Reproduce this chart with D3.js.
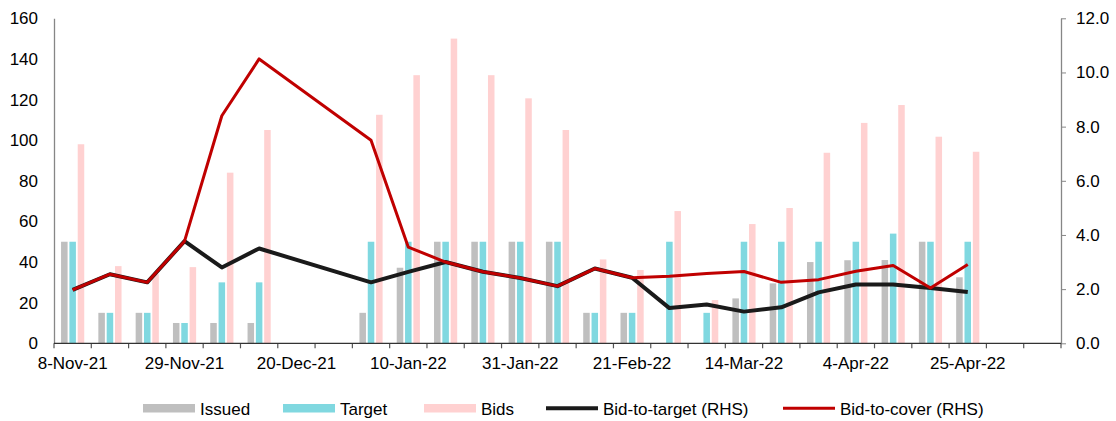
<!DOCTYPE html>
<html><head><meta charset="utf-8">
<script src="https://cdn.jsdelivr.net/npm/d3@7"></script>
<style>body{margin:0;background:#fff}svg{display:block;font-family:"Liberation Sans",Arial,sans-serif}</style>
</head><body><svg id="c" width="1116" height="421"></svg>
<script>
const weeks = ["8-Nov-21","15-Nov-21","22-Nov-21","29-Nov-21","6-Dec-21","13-Dec-21","20-Dec-21","27-Dec-21","3-Jan-22","10-Jan-22","17-Jan-22","24-Jan-22","31-Jan-22","7-Feb-22","14-Feb-22","21-Feb-22","28-Feb-22","7-Mar-22","14-Mar-22","21-Mar-22","28-Mar-22","4-Apr-22","11-Apr-22","18-Apr-22","25-Apr-22","2-May-22","9-May-22"];
const issued = [50,15,15,10,10,10,null,null,15,37.2,50,50,50,50,15,15,null,null,22.1,29.5,40,40.9,41,50,32.5,null,null];
const target = [50,15,15,10,30,30,null,null,50,50,50,50,50,50,15,15,50,15,50,50,50,50,54,50,50,null,null];
const bids = [98,38,34,37.5,84,105,null,null,112.5,132,150,132,120.6,105,41.3,36.1,65.1,21.3,58.7,66.6,93.8,108.5,117.3,101.7,94.3,null,null];
const bidToTarget = [1.97,2.55,2.25,3.77,2.8,3.5,null,null,2.25,2.64,3.0,2.64,2.41,2.11,2.76,2.42,1.3,1.43,1.17,1.33,1.88,2.17,2.17,2.04,1.89,null,null];
const bidToCover = [1.97,2.55,2.25,3.77,8.4,10.5,null,null,7.5,3.55,3.0,2.64,2.41,2.11,2.76,2.42,2.48,2.58,2.65,2.25,2.35,2.66,2.87,2.04,2.91,null,null];
const leftTicks = [0,20,40,60,80,100,120,140,160];
const rightTicks = [0,2,4,6,8,10,12];
const xLabels = ["8-Nov-21","29-Nov-21","20-Dec-21","10-Jan-22","31-Jan-22","21-Feb-22","14-Mar-22","4-Apr-22","25-Apr-22"];

const svg = d3.select("#c");
const L = 54, R = 1061, T = 18.3, B = 343.3;
const x = d3.scaleBand().domain(weeks).range([L, R]).paddingInner(0).paddingOuter(0);
const yL = d3.scaleLinear().domain([0,160]).range([B, T]);
const yR = d3.scaleLinear().domain([0,12]).range([B, T]);
const series = [{k:"Issued",v:issued,c:"#bfbfbf"},{k:"Target",v:target,c:"#80d8e0"},{k:"Bids",v:bids,c:"#ffd1d1"}];
const inner = d3.scaleBand().domain([0,1,2]).range([0, x.bandwidth()]).paddingInner(0).paddingOuter(0.74);

const gBars = svg.append("g");
series.forEach((s,i)=>{
  gBars.selectAll(null).data(weeks.map((w,j)=>({w, v:s.v[j]})).filter(d=>d.v!=null))
    .enter().append("rect")
    .attr("x", d=>x(d.w)+inner(i)+0.9)
    .attr("width", inner.bandwidth()-1.8)
    .attr("y", d=>yL(d.v))
    .attr("height", d=>B-yL(d.v))
    .attr("fill", s.c);
});

// axes
const fs = "17px";
const gl = svg.append("g").attr("transform",`translate(${L},0)`)
  .call(d3.axisLeft(yL).tickValues(leftTicks).tickSize(0).tickPadding(16));
gl.select(".domain").attr("stroke","#868686").attr("stroke-width",1.3);
gl.selectAll("text").attr("font-size",fs).attr("fill","#000").attr("font-family","Liberation Sans, Arial");

const gr = svg.append("g").attr("transform",`translate(${R},0)`)
  .call(d3.axisRight(yR).tickValues(rightTicks).tickSize(5).tickSizeOuter(0).tickPadding(10).tickFormat(d3.format(".1f")));
gr.select(".domain").attr("stroke","#868686").attr("stroke-width",1.3);
gr.selectAll("line").attr("stroke","#868686");
gr.selectAll("text").attr("font-size",fs).attr("fill","#000").attr("font-family","Liberation Sans, Arial");

const gx = svg.append("g").attr("transform",`translate(0,${B})`)
  .call(d3.axisBottom(x).tickSize(0).tickPadding(14).tickFormat(d=>xLabels.includes(d)?d:""));
gx.select(".domain").remove();
gx.selectAll("text").attr("font-size",fs).attr("fill","#000").attr("font-family","Liberation Sans, Arial");
const bounds = weeks.map(w=>x(w)).concat([R]);
gx.selectAll(null).data(bounds).enter().append("line")
  .attr("x1",d=>d).attr("x2",d=>d).attr("y1",0).attr("y2",5).attr("stroke","#555").attr("stroke-width",1.2);
gx.append("line").attr("x1",L).attr("x2",R).attr("y1",0).attr("y2",0).attr("stroke","#333").attr("stroke-width",1.3);

// lines
const cx = w => x(w)+x.bandwidth()/2;
const lineData = arr => weeks.map((w,j)=>({w, v:arr[j]})).filter(d=>d.v!=null);
const lg = d3.line().x(d=>cx(d.w)).y(d=>yR(d.v));
svg.append("path").attr("d", lg(lineData(bidToTarget))).attr("fill","none").attr("stroke","#1a1a1a").attr("stroke-width",4).attr("stroke-linejoin","round");
svg.append("path").attr("d", lg(lineData(bidToCover))).attr("fill","none").attr("stroke","#c00000").attr("stroke-width",3).attr("stroke-linejoin","round");

// legend
const leg = svg.append("g").attr("font-size",fs).attr("font-family","Liberation Sans, Arial");
const items = [
  {t:"Issued",type:"rect",c:"#bfbfbf",x:143},
  {t:"Target",type:"rect",c:"#80d8e0",x:283},
  {t:"Bids",type:"rect",c:"#ffd1d1",x:424},
  {t:"Bid-to-target (RHS)",type:"line",c:"#1a1a1a",w:4,x:546},
  {t:"Bid-to-cover (RHS)",type:"line",c:"#c00000",w:3,x:783}
];
items.forEach(it=>{
  if(it.type==="rect") leg.append("rect").attr("x",it.x).attr("y",404).attr("width",52).attr("height",8.5).attr("fill",it.c);
  else leg.append("line").attr("x1",it.x).attr("x2",it.x+52).attr("y1",408.3).attr("y2",408.3).attr("stroke",it.c).attr("stroke-width",it.w);
  leg.append("text").attr("x",it.x+57).attr("y",414.5).text(it.t).attr("fill","#000");
});
</script></body></html>
